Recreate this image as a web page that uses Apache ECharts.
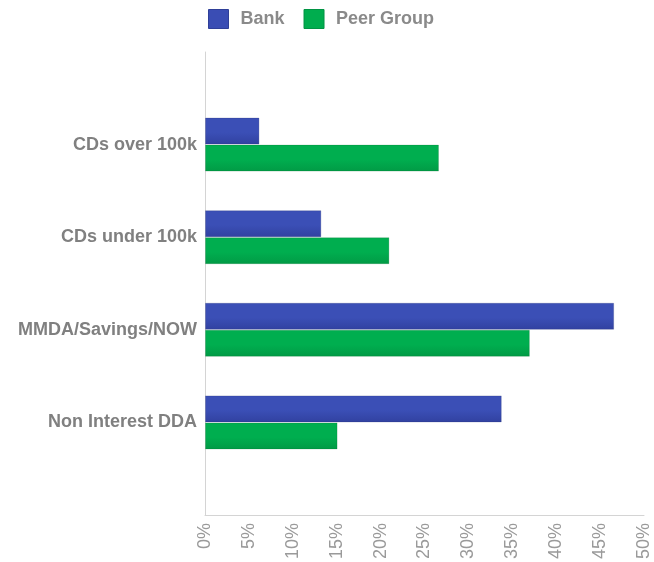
<!DOCTYPE html>
<html>
<head>
<meta charset="utf-8">
<script src="https://cdn.jsdelivr.net/npm/echarts@6/dist/echarts.min.js"></script>
<style>
  html, body { margin: 0; padding: 0; background: #fff; }
  #chart { width: 654px; height: 562px; }
</style>
</head>
<body>
<div id="chart"></div>
<script>
// Deposit mix: share of total deposits, bank vs. peer group (percent)
const categories = ['CDs over 100k', 'CDs under 100k', 'MMDA/Savings/NOW', 'Non Interest DDA'];
const bankValues = [6.2, 13.25, 46.6, 33.8];
const peerValues = [26.65, 21.0, 37.0, 15.1];
const seriesNames = ['Bank', 'Peer Group'];
const tickStep = 5;
const axisMax = 50;

// Padding slots above and below so the category rows sit one band in from the ends
const yData = [''].concat(categories, ['']);
const pad = v => [null].concat(v, [null]);

function grad(top, bottom) {
  return new echarts.graphic.LinearGradient(0, 0, 0, 1, [
    { offset: 0, color: top },
    { offset: 0.55, color: top },
    { offset: 1, color: bottom }
  ]);
}

const chart = echarts.init(document.getElementById('chart'), null, { renderer: 'canvas' });
chart.setOption({
  animation: false,
  backgroundColor: '#ffffff',
  legend: {
    left: 203,
    top: 4,
    itemWidth: 20,
    itemHeight: 19,
    itemGap: 19,
    icon: 'rect',
    data: [
      { name: seriesNames[0], itemStyle: { color: '#3a4db4', borderColor: '#2f3f98', borderWidth: 1 } },
      { name: seriesNames[1], itemStyle: { color: '#00ad4e', borderColor: '#019444', borderWidth: 1 } }
    ],
    textStyle: {
      fontFamily: 'Liberation Sans, Arial, sans-serif',
      fontWeight: 'bold',
      fontSize: 18,
      color: '#8a8a8a',
      padding: [0, 0, 0, 7]
    }
  },
  grid: { left: 205, right: 10, top: 52, bottom: 46 },
  xAxis: {
    type: 'value',
    min: 0,
    max: axisMax,
    interval: tickStep,
    axisLine: { show: true, lineStyle: { color: '#d4d4d4', width: 1 } },
    axisTick: { show: false },
    splitLine: { show: false },
    axisLabel: {
      rotate: 90,
      margin: 8,
      formatter: v => v + '%',
      fontFamily: 'Liberation Sans, Arial, sans-serif',
      fontSize: 18,
      color: '#9a9a9a'
    }
  },
  yAxis: {
    type: 'category',
    data: yData,
    inverse: true,
    boundaryGap: false,
    axisLine: { show: true, lineStyle: { color: '#d4d4d4', width: 1 } },
    axisTick: { show: false },
    splitLine: { show: false },
    axisLabel: {
      margin: 8,
      fontFamily: 'Liberation Sans, Arial, sans-serif',
      fontWeight: 'bold',
      fontSize: 18,
      color: '#808080'
    }
  },
  series: [
    {
      name: seriesNames[0],
      type: 'bar',
      data: pad(bankValues),
      barWidth: 27,
      barGap: '0%',
      itemStyle: {
        color: grad('#3b4fb6', '#3141a0'),
        borderColor: 'rgba(40,50,120,0.25)',
        borderWidth: 1
      }
    },
    {
      name: seriesNames[1],
      type: 'bar',
      data: pad(peerValues),
      barWidth: 27,
      barGap: '0%',
      itemStyle: {
        color: grad('#00ae4f', '#019a45'),
        borderColor: 'rgba(0,100,40,0.2)',
        borderWidth: 1
      }
    }
  ]
});
</script>
</body>
</html>
